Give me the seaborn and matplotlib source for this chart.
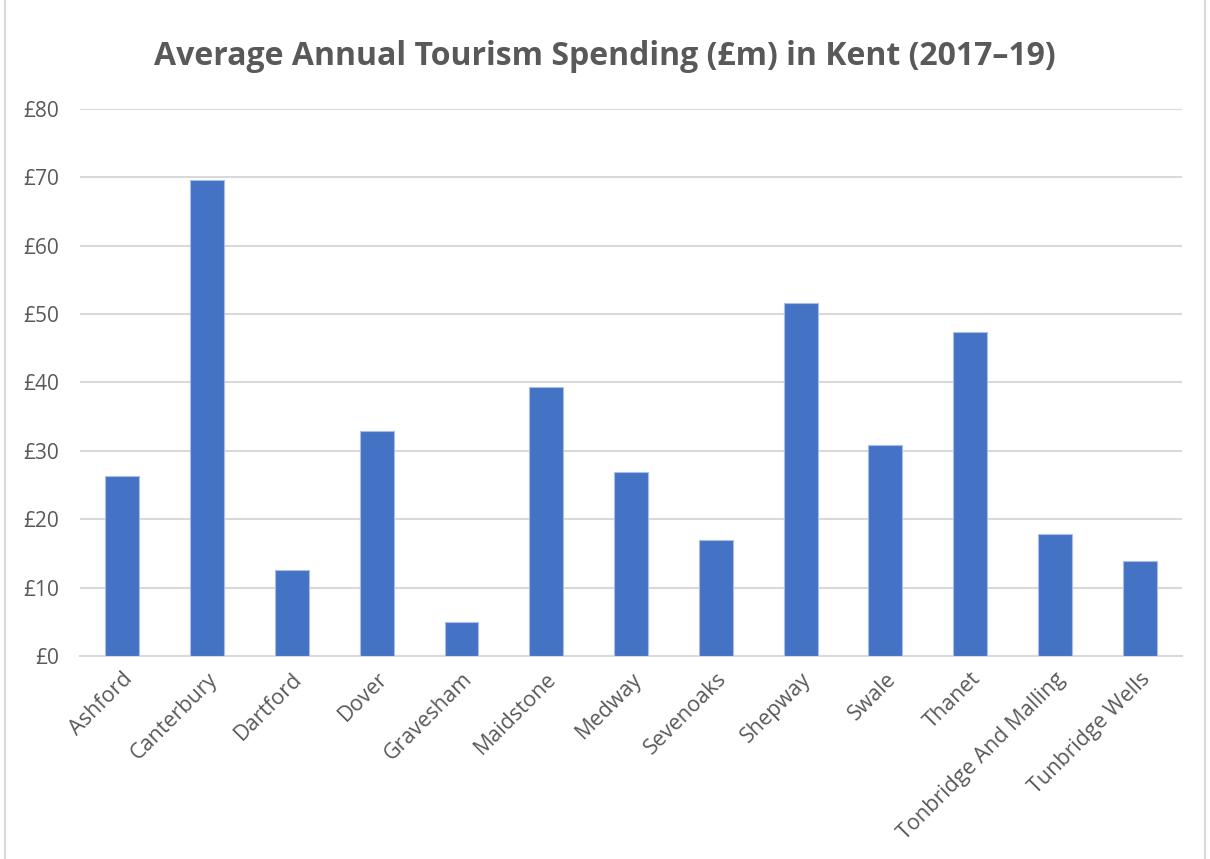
import matplotlib
matplotlib.use("Agg")
import matplotlib.pyplot as plt
import seaborn as sns
import pandas as pd
from matplotlib.patches import Rectangle

districts = ["Ashford", "Canterbury", "Dartford", "Dover", "Gravesham", "Maidstone",
             "Medway", "Sevenoaks", "Shepway", "Swale", "Thanet",
             "Tonbridge And Malling", "Tunbridge Wells"]
spending = [26.3, 69.6, 12.6, 32.9, 4.9, 39.3, 26.9, 16.9, 51.6, 30.9, 47.3, 17.9, 13.9]
y_ticks = [0, 10, 20, 30, 40, 50, 60, 70, 80]
y_tick_labels = ["£0", "£10", "£20", "£30", "£40", "£50", "£60", "£70", "£80"]

df = pd.DataFrame({"district": districts, "spending": spending})

sns.set_theme(style="white")
plt.rcParams["font.family"] = ["Open Sans", "DejaVu Sans"]

text_color = "#595959"
grid_color = "#D9D9D9"

fig = plt.figure(figsize=(12.1, 8.59), dpi=100)
ax = fig.add_axes([0.0661, 0.2363, 0.9108, 0.6372])

sns.barplot(data=df, x="district", y="spending", color="#4472C4", width=0.4,
            edgecolor="#A9BDE6", linewidth=0.8, saturation=1, ax=ax, zorder=3)

ax.set_ylim(0, 80)
ax.set_xlim(-0.5, len(districts) - 0.5)
ax.set_yticks(y_ticks)
ax.set_yticklabels(y_tick_labels, color=text_color, fontsize=15)
ax.yaxis.grid(True, color=grid_color, linewidth=1.5, zorder=0)
ax.set_axisbelow(True)
for side in ["top", "right", "left"]:
    ax.spines[side].set_visible(False)
ax.spines["bottom"].set_color(grid_color)
ax.spines["bottom"].set_linewidth(1.5)
ax.tick_params(axis="y", length=0, pad=15)
ax.tick_params(axis="x", length=0, pad=9)
ax.set_xticks(range(len(districts)))
ax.set_xticklabels(districts, rotation=45, ha="right", rotation_mode="anchor",
                   color=text_color, fontsize=15.5)
ax.set_xlabel("")
ax.set_ylabel("")

fig.text(0.5, 0.934, "Average Annual Tourism Spending (£m) in Kent (2017–19)",
         ha="center", va="center", fontsize=23, fontweight="bold", color=text_color)

# light frame around the chart area
fig.patches.append(Rectangle((0.004, -0.01), 0.992, 1.02, transform=fig.transFigure,
                             fill=False, edgecolor=grid_color, linewidth=1.5))

fig.savefig("out.png", dpi=100, facecolor="white")
